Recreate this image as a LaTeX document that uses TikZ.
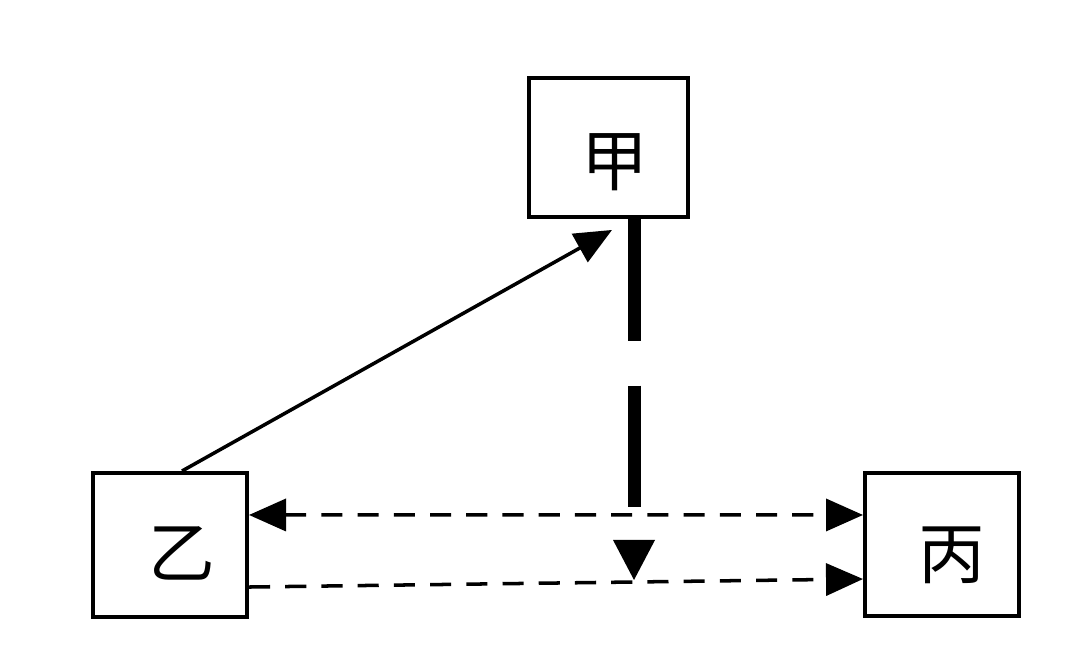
\documentclass[tikz,border=0pt]{standalone}
\usepackage{fontspec}
\newfontfamily\cjk{Noto Sans CJK SC}
\usetikzlibrary{arrows.meta,calc}

\begin{document}
\begin{tikzpicture}[x=0.01cm,y=-0.01cm,
	box/.style={draw,line width=1.1pt,inner sep=0pt},
	tag/.style={font=\cjk\fontsize{19pt}{19pt}\selectfont,inner sep=0pt},
	head/.style={-{Triangle[length=0.37cm,width=0.32cm]}},
	thindash/.style={line width=1pt,dash pattern=on 6pt off 4.3pt}]
	\useasboundingbox (0,0) rectangle (1080,659);
	\node[box,minimum width=1.59cm,minimum height=1.39cm,
		label={[tag,xshift=0.065cm,yshift=-0.145cm]center:甲}] (jia) at (608.5,147.5) {};
	\node[box,minimum width=1.54cm,minimum height=1.44cm,
		label={[tag,xshift=0.12cm,yshift=-0.08cm]center:乙}] (yi) at (170,545) {};
	\node[box,minimum width=1.54cm,minimum height=1.43cm,
		label={[tag,xshift=0.1cm,yshift=-0.105cm]center:丙}] (bing) at (942,544.5) {};
	\coordinate (drop) at (634,580);
	\draw[line width=1pt,head] ($(yi.north)+(12,0)$) -- ($(jia.south)+(3.5,11)$);
	\draw[line width=3.7pt,dash pattern=on 34.6pt off 12.8pt,
		-{Triangle[length=0.4cm,width=0.42cm,line width=0pt]}] ($(jia.south)+(25.5,0)$) -- (drop);
	\draw[thindash,{Triangle[length=0.37cm,width=0.32cm]}-{Triangle[length=0.37cm,width=0.32cm]}]
		([yshift=0.3cm]yi.east) -- ([yshift=0.295cm]bing.west);
	\draw[thindash,head] ([yshift=-0.42cm]yi.east) -- ([yshift=-0.345cm]bing.west);
\end{tikzpicture}
\end{document}
